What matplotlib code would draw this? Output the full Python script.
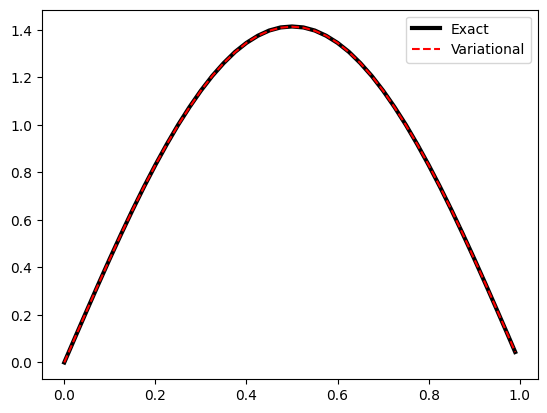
import matplotlib
matplotlib.use('Agg')
import matplotlib.pyplot as plt

# values
x = [0.0, 0.025, 0.05, 0.075, 0.1, 0.125, 0.15, 0.175, 0.2, 0.225, 0.25,
     0.275, 0.3, 0.325, 0.35, 0.375, 0.4, 0.425, 0.45, 0.475, 0.5,
     0.525, 0.55, 0.575, 0.6, 0.625, 0.65, 0.675, 0.7, 0.725, 0.75,
     0.775, 0.8, 0.825, 0.85, 0.875, 0.9, 0.925, 0.95, 0.975, 0.99]

exact = [0.0, 0.111, 0.221, 0.330, 0.437, 0.541, 0.642, 0.739, 0.831, 0.918, 1.000,
         1.075, 1.144, 1.206, 1.260, 1.307, 1.345, 1.375, 1.397, 1.410, 1.414,
         1.410, 1.397, 1.375, 1.345, 1.307, 1.260, 1.206, 1.144, 1.075, 1.000,
         0.918, 0.831, 0.739, 0.642, 0.541, 0.437, 0.330, 0.221, 0.111, 0.044]

variational = [0.0, 0.111, 0.221, 0.330, 0.436, 0.541, 0.642, 0.739, 0.831, 0.918, 0.999,
               1.074, 1.144, 1.206, 1.260, 1.306, 1.345, 1.375, 1.396, 1.409, 1.413,
               1.409, 1.396, 1.375, 1.345, 1.306, 1.260, 1.206, 1.144, 1.074, 0.999,
               0.918, 0.831, 0.739, 0.642, 0.541, 0.436, 0.330, 0.221, 0.111, 0.044]

fig, ax = plt.subplots(figsize=(6.4, 4.8))
ax.plot(x, exact, color='black', linewidth=3, label='Exact')
ax.plot(x, variational, 'r--', label='Variational')
ax.legend()

fig.savefig('out.png', dpi=100, bbox_inches='tight')
